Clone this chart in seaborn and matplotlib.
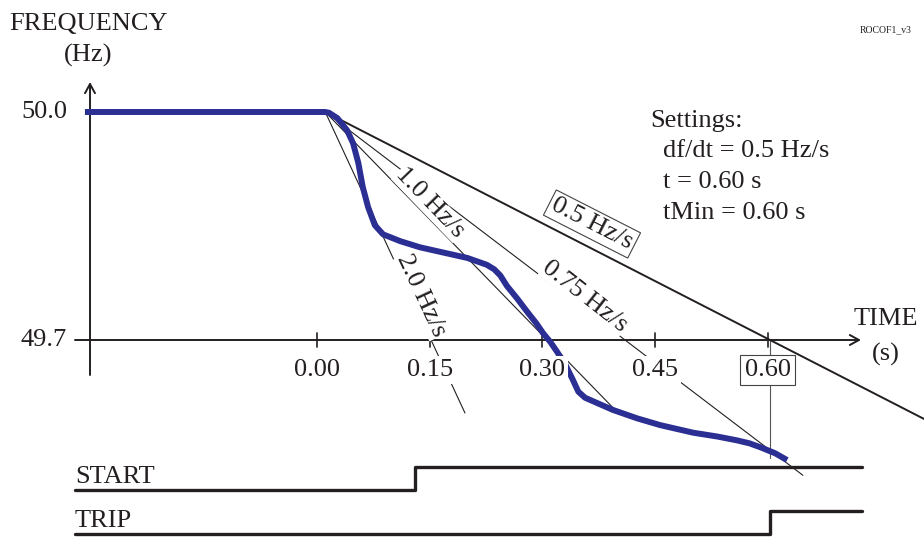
import matplotlib
matplotlib.use("Agg")
import matplotlib.pyplot as plt
import seaborn as sns

# ---------------------------------------------------------
# data
# ---------------------------------------------------------
# measured frequency trace (time in s, frequency in Hz)
trace_t = [-0.309, 0.007, 0.011, 0.016, 0.027, 0.040, 0.048, 0.055, 0.061, 0.068,
           0.077, 0.088, 0.111, 0.137, 0.164, 0.200, 0.226, 0.236, 0.244, 0.253,
           0.267, 0.280, 0.292, 0.301, 0.311, 0.320, 0.331, 0.340, 0.348,
           0.357, 0.394, 0.426, 0.457, 0.501, 0.533, 0.559, 0.576, 0.590, 0.610, 0.626]
trace_f = [50.000, 50.000, 50.000, 49.999, 49.992, 49.976, 49.959, 49.933, 49.901, 49.875,
           49.851, 49.839, 49.830, 49.822, 49.816, 49.808, 49.799, 49.793, 49.785, 49.771,
           49.754, 49.737, 49.722, 49.709, 49.697, 49.684, 49.667, 49.649, 49.632,
           49.624, 49.608, 49.597, 49.588, 49.578, 49.573, 49.568, 49.564, 49.559, 49.551, 49.542]

# df/dt reference lines: common start point, individual end points
rocof_labels = ["0.5 Hz/s", "0.75 Hz/s", "1.0 Hz/s", "2.0 Hz/s"]
rocof_t0, rocof_f0 = 0.011, 50.0
rocof_end_t = [0.850, 0.647, 0.397, 0.197]
rocof_end_f = [49.575, 49.522, 49.608, 49.604]

tick_t = [0.00, 0.15, 0.30, 0.45, 0.60]
tick_labels = ["0.00", "0.15", "0.30", "0.45", "0.60"]
freq_ticks = [50.0, 49.7]
freq_labels = ["50.0", "49.7"]

# binary signals
start_t = [-0.322, 0.130, 0.726]
start_v = [0, 1, 1]
trip_t = [-0.322, 0.603, 0.726]
trip_v = [0, 1, 1]

settings = ["df/dt = 0.5 Hz/s", "t = 0.60 s", "tMin = 0.60 s"]

# ---------------------------------------------------------
# pixel geometry of the drawing
# ---------------------------------------------------------
W, H = 924, 538
T0_PX, PX_PER_S = 317, 751
F50_PX, PX_PER_HZ = 112, 760

sns.set_theme(style="white")
plt.rcParams['font.family'] = ['Liberation Serif', 'DejaVu Serif']
INK = "#231f20"
BLUE = "#2b2f94"
FS = 19

fig = plt.figure(figsize=(W / 100, H / 100), dpi=100)
ax = fig.add_axes([0, 0, 1, 1])
ax.set_xlim(-T0_PX / PX_PER_S, (W - T0_PX) / PX_PER_S)
ax.set_ylim(50 - (H - F50_PX) / PX_PER_HZ, 50 + F50_PX / PX_PER_HZ)
ax.axis("off")


def fx(x):
    return x / W


def fy(y):
    return 1 - y / H


def t_of(x):
    return (x - T0_PX) / PX_PER_S


def f_of(y):
    return 50 - (y - F50_PX) / PX_PER_HZ


# axes with open arrow heads
arrow = dict(arrowstyle="->,head_length=0.55,head_width=0.3", lw=1.4, color=INK,
             shrinkA=0, shrinkB=0)
ax.annotate("", xy=(t_of(90), f_of(82)), xytext=(t_of(90), f_of(375)), arrowprops=arrow)
ax.annotate("", xy=(t_of(861), 49.7), xytext=(t_of(75), 49.7), arrowprops=arrow)

for t in tick_t:
    ax.plot([t, t], [49.7 - 0.009, 49.7 + 0.009], color=INK, lw=1.2)

# 0.60 s marker down to the trace
ax.plot([0.603, 0.603], [49.7, 49.545], color="#555555", lw=0.8)

# reference slopes
for i, lab in enumerate(rocof_labels):
    ax.plot([rocof_t0, rocof_end_t[i]], [rocof_f0, rocof_end_f[i]], color=INK,
            lw=1.4 if i == 0 else 0.8, zorder=2)

# measured trace
sns.lineplot(x=trace_t, y=trace_f, color=BLUE, lw=4.3, ax=ax, sort=False,
             solid_joinstyle="round", solid_capstyle="butt", zorder=3)

# slope labels
slope_pos = [(592, 224, -27), (585, 297, -38), (430, 203, -46), (421, 296, -65)]
for lab, (px, py, rot) in zip(rocof_labels, slope_pos):
    box = dict(boxstyle="square,pad=0.12", fc="white", ec="#444444", lw=0.8) if lab == "0.5 Hz/s" \
        else dict(boxstyle="square,pad=0.02", fc="white", ec="none")
    ax.text(fx(px), fy(py), lab, transform=fig.transFigure, rotation=rot,
            ha="center", va="center", fontsize=FS, color=INK, bbox=box, zorder=5)

# time tick labels
for t, lab in zip(tick_t, tick_labels):
    box = dict(boxstyle="square,pad=0.16", fc="white", ec="#444444", lw=0.8) if lab == "0.60" \
        else dict(boxstyle="square,pad=0.12", fc="white", ec="none")
    ax.text(t, f_of(376), lab, ha="center", va="baseline", fontsize=FS, color=INK,
            bbox=box, zorder=5)

for f, lab in zip(freq_ticks, freq_labels):
    ax.text(t_of(44), f, lab, ha="center", va="center", fontsize=FS, color=INK)

# axis titles
ax.text(fx(88), fy(30), "FREQUENCY", transform=fig.transFigure, ha="center",
        va="baseline", fontsize=FS, color=INK)
ax.text(fx(88), fy(55), "(Hz)", transform=fig.transFigure, ha="center",
        va="center", fontsize=FS, color=INK)
ax.text(fx(886), fy(325), "TIME", transform=fig.transFigure, ha="center",
        va="baseline", fontsize=FS, color=INK)
ax.text(fx(886), fy(354), "(s)", transform=fig.transFigure, ha="center",
        va="center", fontsize=FS, color=INK)
ax.text(fx(886), fy(30), "ROCOF1_v3", transform=fig.transFigure, ha="center",
        va="center", fontsize=7, color=INK)

# settings block
ax.text(fx(650), fy(127), "Settings:", transform=fig.transFigure, ha="left",
        va="baseline", fontsize=FS, color=INK)
for i, line in enumerate(settings):
    ax.text(fx(663), fy(157 + 31 * i), line, transform=fig.transFigure, ha="left",
            va="baseline", fontsize=FS, color=INK)

# binary signals on their own vertical scale (23 px per unit)
ax_sig = fig.add_axes([0, 0, 1, 1], sharex=ax)
ax_sig.set_ylim(-(H - 490) / 23, 490 / 23)
ax_sig.axis("off")
ax_sig.patch.set_alpha(0)
trip_base = -1.9
sns.lineplot(x=start_t, y=start_v, drawstyle="steps-post", color=INK, lw=2.4,
             ax=ax_sig, sort=False)
sns.lineplot(x=trip_t, y=[v + trip_base for v in trip_v], drawstyle="steps-post",
             color=INK, lw=2.4, ax=ax_sig, sort=False)
ax_sig.text(fx(75), fy(483), "START", transform=fig.transFigure, ha="left",
            va="baseline", fontsize=FS, color=INK)
ax_sig.text(fx(75), fy(527), "TRIP", transform=fig.transFigure, ha="left",
            va="baseline", fontsize=FS, color=INK)

fig.savefig("out.png", dpi=100)
